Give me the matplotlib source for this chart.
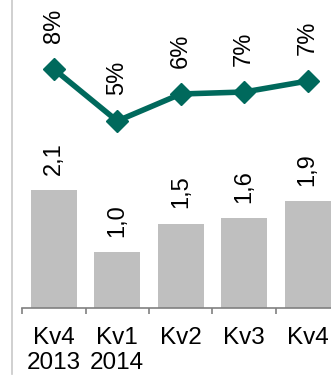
import matplotlib
matplotlib.use("Agg")
import matplotlib.pyplot as plt
from matplotlib.lines import Line2D

plt.rcParams['font.family'] = ['Liberation Sans', 'DejaVu Sans']

categories = ["Kv4\n2013", "Kv1\n2014", "Kv2", "Kv3", "Kv4"]
bar_values = [2.1, 1.0, 1.5, 1.6, 1.9]
bar_labels = ["2,1", "1,0", "1,5", "1,6", "1,9"]
margin_values = [7.7, 5.1, 6.45, 6.55, 7.1]
margin_labels = ["8%", "5%", "6%", "7%", "7%"]

W, H = 331, 378
dpi = 100
fig = plt.figure(figsize=(W / dpi, H / dpi), dpi=dpi)

left_px, right_px = 22, 339.5
base_px = 308
ax = fig.add_axes([left_px / W, (H - base_px) / H, (right_px - left_px) / W, base_px / H])
ax.patch.set_visible(False)

x = list(range(len(categories)))
ax.bar(x, bar_values, width=0.72, color="#BFBFBF", zorder=2)
ax.set_xlim(-0.5, len(categories) - 0.5)
ax.set_ylim(0, base_px / 56.2)

for xi, v, lab in zip(x, bar_values, bar_labels):
    ax.annotate(lab, (xi, v), xytext=(0, 11), textcoords="offset points",
                rotation=90, ha="center", va="bottom", fontsize=17, color="#000000")

for s in ["top", "right", "left"]:
    ax.spines[s].set_visible(False)
ax.spines["bottom"].set_color("#808080")
ax.spines["bottom"].set_linewidth(1.2)
ax.set_yticks([])
ax.set_xticks(x)
ax.set_xticklabels(categories, fontsize=17.5, linespacing=1.2)
ax.tick_params(axis="x", which="major", length=0, pad=13.5)
ax.set_xticks([i - 0.5 for i in range(len(categories) + 1)], minor=True)
ax.tick_params(axis="x", which="minor", length=4.5, width=1.2, color="#808080")

ax2 = ax.twinx()
k = 20.0
top_val = margin_values[0] + 69 / k
bot_val = margin_values[0] - (base_px - 69) / k
ax2.set_ylim(bot_val, top_val)
ax2.plot(x, margin_values, color="#00695C", lw=4, marker="D", markersize=11,
         markeredgewidth=1, zorder=3, solid_joinstyle="miter")
for xi, v, lab in zip(x, margin_values, margin_labels):
    ax2.annotate(lab, (xi, v), xytext=(0, 18.5), textcoords="offset points",
                 rotation=90, ha="center", va="bottom", fontsize=17, color="#000000")
for s in ax2.spines.values():
    s.set_visible(False)
ax2.set_yticks([])

fig.add_artist(Line2D([11.5 / W, 11.5 / W], [(H - 374) / H, 1.0],
                      transform=fig.transFigure, color="#C8C8C8", lw=1.2))

fig.savefig("out.png", dpi=dpi)
